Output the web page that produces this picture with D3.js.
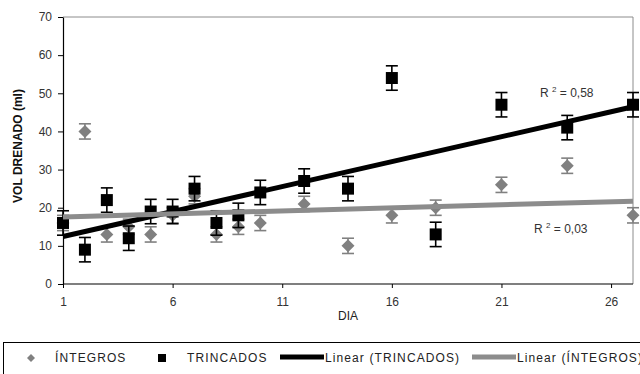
<!DOCTYPE html>
<html>
<head>
<meta charset="utf-8">
<script src="https://cdn.jsdelivr.net/npm/d3@7"></script>
<style>
  body { margin: 0; background: #fff; }
  svg { display: block; }
</style>
</head>
<body>
<svg id="chart" width="640" height="374"></svg>
<script>
// days measured
var days = [1, 2, 3, 4, 5, 6, 7, 8, 9, 10, 12, 14, 16, 18, 21, 24, 27];
// drained volume (ml)
var integros  = [16, 40, 13, 15, 13, 18, 23, 13, 15, 16, 21, 10, 18, 20, 26, 31, 18];
var trincados = [16, 9, 22, 12, 19, 19, 25, 16, 18, 24, 27, 25, 54, 13, 47, 41, 47];
var errIntegros = 2;
var errTrincados = 3.2;
var yTicks = [0, 10, 20, 30, 40, 50, 60, 70];
var xTicks = [1, 6, 11, 16, 21, 26];

var svg = d3.select("#chart");
var font = "'Liberation Sans', Arial, sans-serif";

var x = d3.scaleLinear().domain([1, 27]).range([63, 633]);
var y = d3.scaleLinear().domain([0, 70]).range([284, 17]);

function linreg(xs, ys) {
    var mx = d3.mean(xs), my = d3.mean(ys);
    var sxy = 0, sxx = 0, syy = 0;
    for (var i = 0; i < xs.length; i++) {
        sxy += (xs[i] - mx) * (ys[i] - my);
        sxx += (xs[i] - mx) * (xs[i] - mx);
        syy += (ys[i] - my) * (ys[i] - my);
    }
    var b = sxy / sxx;
    return { b: b, a: my - b * mx, r2: sxy * sxy / (sxx * syy) };
}

// frame (top/right border)
svg.append("path")
    .attr("d", "M" + x(1) + "," + y(70) + "H" + x(27) + "V" + y(0))
    .attr("fill", "none")
    .attr("stroke", "#8c8c8c")
    .attr("stroke-width", 1);

// axes
var yAxis = svg.append("g")
    .attr("transform", "translate(" + x(1) + ",0)")
    .call(d3.axisLeft(y).tickValues(yTicks).tickSize(5).tickPadding(6).tickSizeOuter(0));
var xAxis = svg.append("g")
    .attr("transform", "translate(0," + y(0) + ")")
    .call(d3.axisBottom(x).tickValues(xTicks).tickSize(4).tickPadding(9).tickSizeOuter(0));

[yAxis, xAxis].forEach(function (g) {
    g.select(".domain").attr("stroke", "#000").attr("stroke-width", 1.2);
    g.selectAll(".tick line").attr("stroke", "#000");
    g.selectAll("text")
        .attr("font-family", font)
        .attr("font-size", 12)
        .attr("fill", "#333");
});
xAxis.select(".domain").attr("d", "M" + x(1) + ",0H" + x(27));

svg.append("text")
    .attr("x", x(14))
    .attr("y", 320)
    .attr("text-anchor", "middle")
    .attr("font-family", font)
    .attr("font-size", 12)
    .attr("fill", "#222")
    .text("DIA");

svg.append("text")
    .attr("transform", "translate(22,146) rotate(-90)")
    .attr("text-anchor", "middle")
    .attr("font-family", font)
    .attr("font-size", 12)
    .attr("font-weight", "bold")
    .attr("fill", "#111")
    .text("VOL DRENADO (ml)");

// error bars + markers
function drawSeries(vals, err, color, shape) {
    var pts = days.map(function (d, i) { return { d: d, v: vals[i] }; });
    var g = svg.append("g");
    var eb = g.selectAll(".eb").data(pts).enter().append("g")
        .attr("stroke", color)
        .attr("stroke-width", 1.6)
        .attr("fill", "none");
    eb.append("line")
        .attr("x1", function (p) { return x(p.d); })
        .attr("x2", function (p) { return x(p.d); })
        .attr("y1", function (p) { return y(p.v + err); })
        .attr("y2", function (p) { return y(p.v - err); });
    [1, -1].forEach(function (s) {
        eb.append("line")
            .attr("x1", function (p) { return x(p.d) - 6; })
            .attr("x2", function (p) { return x(p.d) + 6; })
            .attr("y1", function (p) { return y(p.v + s * err); })
            .attr("y2", function (p) { return y(p.v + s * err); });
    });
    g.selectAll(".mk").data(pts).enter().append("path")
        .attr("transform", function (p) { return "translate(" + x(p.d) + "," + y(p.v) + ")"; })
        .attr("d", shape)
        .attr("fill", color);
}
var diamond = "M0,-6.5L6.5,0L0,6.5L-6.5,0Z";
var square = "M-6,-6H6V6H-6Z";
drawSeries(integros, errIntegros, "#808080", diamond);
drawSeries(trincados, errTrincados, "#000", square);

// trendlines
var regT = linreg(days, trincados);
var regI = linreg(days, integros);
var line = d3.line().x(function (d) { return x(d); });
svg.append("path")
    .datum([1, 27])
    .attr("d", line.y(function (d) { return y(regT.a + regT.b * d); }))
    .attr("stroke", "#000")
    .attr("stroke-width", 5)
    .attr("fill", "none");
svg.append("path")
    .datum([1, 27])
    .attr("d", line.y(function (d) { return y(regI.a + regI.b * d); }))
    .attr("stroke", "#8c8c8c")
    .attr("stroke-width", 5)
    .attr("fill", "none");

function r2Label(px, py, r2) {
    var t = svg.append("text")
        .attr("x", px).attr("y", py)
        .attr("font-family", font)
        .attr("font-size", 12)
        .attr("fill", "#333");
    t.append("tspan").text("R ");
    t.append("tspan").attr("dy", -5).attr("font-size", 8).text("2");
    t.append("tspan").attr("dy", 5).text(" = " + r2.toFixed(2).replace(".", ","));
}
r2Label(540, 97, regT.r2);
r2Label(534, 233, regI.r2);

// legend
svg.append("rect")
    .attr("x", 3.5).attr("y", 342.5)
    .attr("width", 700).attr("height", 60)
    .attr("fill", "#fff")
    .attr("stroke", "#000");

var lg = svg.append("g")
    .attr("font-family", font)
    .attr("font-size", 12)
    .attr("fill", "#222")
    .attr("letter-spacing", 1.1);
lg.append("path").attr("transform", "translate(31,358)").attr("d", "M0,-4L4,0L0,4L-4,0Z").attr("fill", "#808080");
lg.append("text").attr("x", 55).attr("y", 362).text("ÍNTEGROS");
lg.append("path").attr("transform", "translate(162,358)").attr("d", "M-4,-4H4V4H-4Z").attr("fill", "#000");
lg.append("text").attr("x", 187).attr("y", 362).text("TRINCADOS");
lg.append("line").attr("x1", 280).attr("x2", 324).attr("y1", 357).attr("y2", 357)
    .attr("stroke", "#000").attr("stroke-width", 5);
lg.append("text").attr("x", 325).attr("y", 362).text("Linear (TRINCADOS)");
lg.append("line").attr("x1", 472).attr("x2", 516).attr("y1", 357).attr("y2", 357)
    .attr("stroke", "#8c8c8c").attr("stroke-width", 5);
lg.append("text").attr("x", 517).attr("y", 362).text("Linear (ÍNTEGROS)");
</script>
</body>
</html>
